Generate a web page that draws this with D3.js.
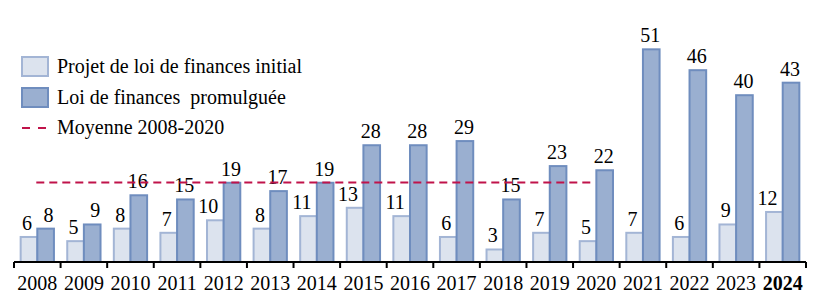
<!DOCTYPE html>
<html>
<head>
<meta charset="utf-8">
<script src="https://cdn.jsdelivr.net/npm/d3@7"></script>
<style>
  body { margin: 0; background: #fff; }
  svg text { font-family: "Liberation Serif", "DejaVu Serif", serif; fill: #000; }
</style>
</head>
<body>
<svg id="chart"></svg>
<script>
// ########## Data ##########
years = ["2008", "2009", "2010", "2011", "2012", "2013", "2014", "2015", "2016",
         "2017", "2018", "2019", "2020", "2021", "2022", "2023", "2024"];
plfInitial = [6, 5, 8, 7, 10, 8, 11, 13, 11, 6, 3, 7, 5, 7, 6, 9, 12];
lfPromulguee = [8, 9, 16, 15, 19, 17, 19, 28, 28, 29, 15, 23, 22, 51, 46, 40, 43];
meanYears = ["2008", "2020"];
legendLabels = ["Projet de loi de finances initial", "Loi de finances  promulguée", "Moyenne 2008-2020"];

w = 819;
h = 308;

lightFill = "#dce3ee", lightStroke = "#a3b5d5";
darkFill = "#9aafd0", darkStroke = "#6f8dbe";
meanColor = "#c0134a";

// ########## SVG ##########
svg = d3.select("#chart")
    .attr("width", w)
    .attr("height", h);

// ########## Scales ##########
x0 = d3.scaleBand()
    .domain(years)
    .range([14, 806])
    .padding(0);

x1 = d3.scaleBand()
    .domain(["plf", "lf"])
    .range([0, x0.bandwidth()])
    .paddingInner(0)
    .paddingOuter(0.4);

y = d3.scaleLinear()
    .domain([0, 60])
    .range([262, 262 - 60 * 4.17]);

// ########## Bars ##########
rows = years.map(function (yr, i) {
    return { year: yr, plf: plfInitial[i], lf: lfPromulguee[i] };
});

group = svg.append("g")
    .selectAll("g")
    .data(rows)
    .enter().append("g")
    .attr("transform", function (d) { return "translate(" + x0(d.year) + ",0)"; });

group.append("rect")
    .attr("x", x1("plf"))
    .attr("y", function (d) { return y(d.plf); })
    .attr("width", x1.bandwidth())
    .attr("height", function (d) { return y(0) - y(d.plf); })
    .attr("fill", lightFill)
    .attr("stroke", lightStroke)
    .attr("stroke-width", 2);

group.append("rect")
    .attr("x", x1("lf"))
    .attr("y", function (d) { return y(d.lf); })
    .attr("width", x1.bandwidth())
    .attr("height", function (d) { return y(0) - y(d.lf); })
    .attr("fill", darkFill)
    .attr("stroke", darkStroke)
    .attr("stroke-width", 2);

// ########## Mean line ##########
meanValue = d3.mean(lfPromulguee.slice(0, years.indexOf(meanYears[1]) + 1));

svg.append("line")
    .attr("x1", x0(meanYears[0]) + x0.bandwidth() / 2 - 1)
    .attr("x2", x0(meanYears[1]) + x0.bandwidth() / 2 - 6)
    .attr("y1", y(meanValue))
    .attr("y2", y(meanValue))
    .attr("stroke", meanColor)
    .attr("stroke-width", 2)
    .attr("stroke-dasharray", "8,5");

// ########## Value labels ##########
group.append("text")
    .attr("x", x1("plf") + x1.bandwidth() / 2 + 3)
    .attr("y", function (d) { return y(d.plf) - 7; })
    .attr("text-anchor", "end")
    .style("font-size", "20px")
    .text(function (d) { return d.plf; });

group.append("text")
    .attr("x", function (d) { return x1("lf") + x1.bandwidth() / 2 + (d.lf < 10 ? 3 : -1); })
    .attr("y", function (d) { return y(d.lf) - 7; })
    .attr("text-anchor", "middle")
    .style("font-size", "20px")
    .text(function (d) { return d.lf; });

// ########## Axis ##########
xAxis = svg.append("g")
    .attr("transform", "translate(0," + y(0) + ")")
    .call(d3.axisBottom(x0).tickSize(0).tickPadding(0));

xAxis.select(".domain").remove();
xAxis.append("line")
    .attr("x1", 14).attr("x2", 806)
    .attr("stroke", "#000").attr("stroke-width", 2);

xAxis.selectAll(".tickmark")
    .data(years.concat(["end"]))
    .enter().append("line")
    .attr("x1", function (d, i) { return 14 + i * x0.step(); })
    .attr("x2", function (d, i) { return 14 + i * x0.step(); })
    .attr("y1", 0).attr("y2", 6)
    .attr("stroke", "#000").attr("stroke-width", 2);

xAxis.selectAll(".tick text")
    .attr("y", 28)
    .attr("dy", null)
    .style("font-size", "20px")
    .style("font-family", "'Liberation Serif', serif")
    .style("font-weight", function (d) { return d === "2024" ? "bold" : "normal"; })
    .attr("fill", "#000");

// ########## Legend ##########
legend = svg.append("g");

legend.append("rect")
    .attr("x", 22).attr("y", 57).attr("width", 26).attr("height", 19)
    .attr("fill", lightFill).attr("stroke", lightStroke).attr("stroke-width", 2);
legend.append("rect")
    .attr("x", 22).attr("y", 88).attr("width", 26).attr("height", 19)
    .attr("fill", darkFill).attr("stroke", darkStroke).attr("stroke-width", 2);
legend.append("line")
    .attr("x1", 22).attr("x2", 48).attr("y1", 128).attr("y2", 128)
    .attr("stroke", meanColor).attr("stroke-width", 2)
    .attr("stroke-dasharray", "8,8");

legend.selectAll("text")
    .data(legendLabels)
    .enter().append("text")
    .attr("x", 57)
    .attr("y", function (d, i) { return 73 + i * 30.5; })
    .style("font-size", "20px")
    .attr("xml:space", "preserve")
    .text(function (d) { return d; });
</script>
</body>
</html>
